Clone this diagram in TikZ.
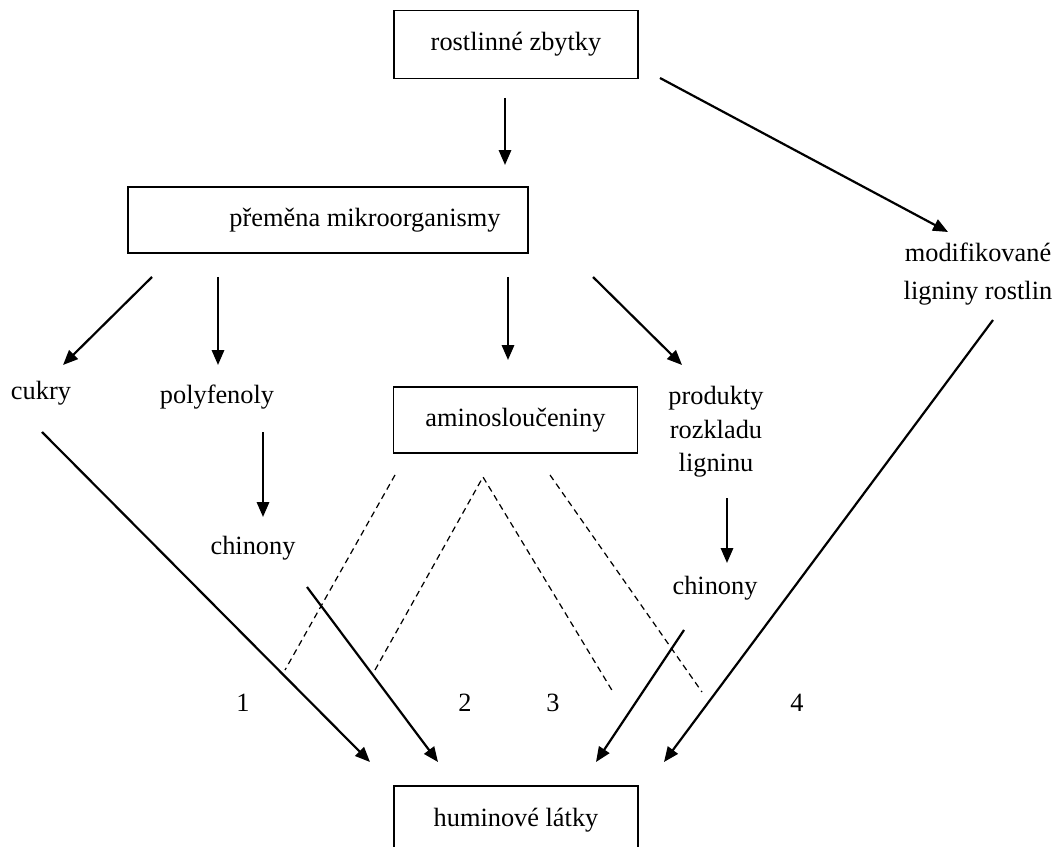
\documentclass[tikz,border=0pt]{standalone}
\usepackage{fontspec}
\setmainfont{Liberation Serif}
\usetikzlibrary{arrows.meta,positioning}

\begin{document}
\begin{tikzpicture}[
    x=0.02cm, y=-0.02cm,
    every node/.style={
        inner sep=0pt,
        font=\fontsize{15}{19}\selectfont
    },
    box/.style={draw, line width=1pt, minimum width=4.88cm, minimum height=1.36cm},
    stack/.style={align=center},
    arr/.style={-{Triangle[length=8.5pt,width=7pt]}, line width=1.25pt},
    link/.style={line width=0.7pt, dash pattern=on 3.5pt off 2.5pt}
]
\clip (0,0) rectangle (1057,847);

% ---------------- Boxes ----------------
\node[box] (rostliny) at (516,44.5) {rostlinné zbytky};
\node[box, minimum width=8cm, minimum height=1.32cm] (premena) at (328,220)
    {\hspace*{1.48cm}přeměna mikroorganismy};
\node[box, minimum height=1.32cm] (amino) at (515.5,420) {aminosloučeniny};
\node[box] (humin) at (516,820) {huminové látky};

% ---------------- Products ----------------
\node (cukry) at (41,393) {cukry};
\node (polyfenoly) at (217,397) {polyfenoly};
\node (chinonyL) at (253,548) {chinony};
\node[stack] (produkty) at (716,432) {produkty\\rozkladu\\ligninu};
\node (chinonyR) at (715,588) {chinony};
\node[stack] (lignin) at (978,274) {modifikované\\[3pt]ligniny rostlin};

% ---------------- Pathways ----------------
\node (n1) at (243,703) {1};
\node (n2) at (465,703) {2};
\node (n3) at (553,703) {3};
\node (n4) at (797,703) {4};

% ---------------- Arrow ends ----------------
\coordinate (rz-a) at (505,98);   \coordinate (pm-a) at (505,165);
\coordinate (rz-b) at (660,78);   \coordinate (lg-a) at (948,232);
\coordinate (pm-b) at (152,277);  \coordinate (ck-a) at (63,365);
\coordinate (pm-c) at (218,277);  \coordinate (pf-a) at (218,365);
\coordinate (pm-d) at (508,277);  \coordinate (am-a) at (508,360);
\coordinate (pm-e) at (593,277);  \coordinate (pr-a) at (682,365);
\coordinate (pf-b) at (263,432);  \coordinate (chl-a) at (263,517);
\coordinate (pr-b) at (727,498);  \coordinate (chr-a) at (727,563);
\coordinate (ck-b) at (42,432);   \coordinate (hu-a) at (370,762);
\coordinate (chl-b) at (307,587); \coordinate (hu-b) at (438,762);
\coordinate (chr-b) at (684,630); \coordinate (hu-c) at (596,762);
\coordinate (lg-b) at (993,320);  \coordinate (hu-d) at (664,762);

\draw[arr] (rz-a) -- (pm-a);
\draw[arr] (rz-b) -- (lg-a);
\draw[arr] (pm-b) -- (ck-a);
\draw[arr] (pm-c) -- (pf-a);
\draw[arr] (pm-d) -- (am-a);
\draw[arr] (pm-e) -- (pr-a);
\draw[arr] (pf-b) -- (chl-a);
\draw[arr] (pr-b) -- (chr-a);
\draw[arr] (ck-b) -- (hu-a);
\draw[arr] (chl-b) -- (hu-b);
\draw[arr] (chr-b) -- (hu-c);
\draw[arr] (lg-b) -- (hu-d);

% ---------------- Dashed separators ----------------
\coordinate (s1a) at (395,475); \coordinate (s1b) at (285,670);
\coordinate (s2a) at (375,670); \coordinate (s2b) at (483,477); \coordinate (s2c) at (613,692);
\coordinate (s3a) at (550,475); \coordinate (s3b) at (702,692);

\draw[link] (s1a) -- (s1b);
\draw[link] (s2a) -- (s2b) -- (s2c);
\draw[link] (s3a) -- (s3b);

\end{tikzpicture}
\end{document}
